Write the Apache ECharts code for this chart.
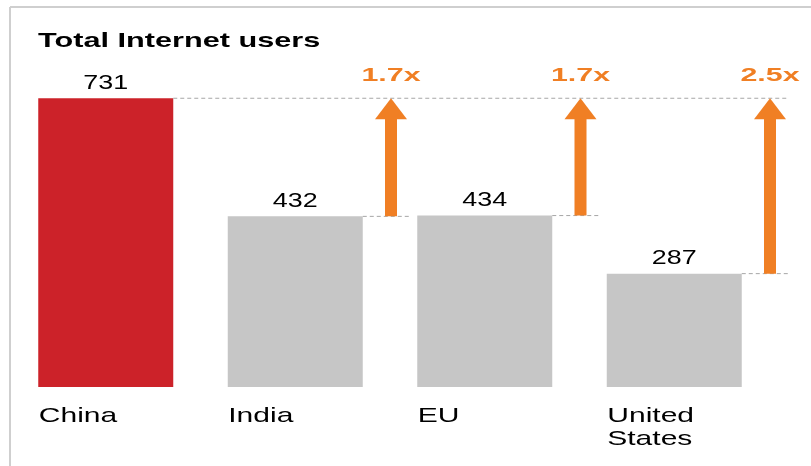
<!DOCTYPE html>
<html>
<head>
<meta charset="utf-8">
<script src="https://cdn.jsdelivr.net/npm/echarts@6/dist/echarts.min.js"></script>
<style>
  html, body { margin: 0; padding: 0; background: #fff; }
  #chart { width: 811px; height: 466px; }
</style>
</head>
<body>
<div id="chart"></div>
<script>
// Internet users by region (millions)
const categories = ['China', 'India', 'EU', 'United\nStates'];
const users = [731, 432, 434, 287];
// Multiples needed to reach China's total
const multiples = ['', '1.7x', '1.7x', '2.5x'];
const title = 'Total Internet users';

const RED = '#CC2229';
const GREY = '#C6C6C6';
const ORANGE = '#F07F24';
const FONT = '"Liberation Sans", Arial, sans-serif';
const BAR_W = 135;

const chart = echarts.init(document.getElementById('chart'));

// Wide-set lettering used throughout the slide
const WIDE = { title: 1.46, value: 1.28, multiple: 1.6, category: 1.43 };

function renderGap(params, api) {
  const i = api.value(0);
  const v = api.value(1);
  const p = api.coord([i, v]);
  const half = api.size([1, 0])[0] / 2;
  const children = [];
  const dash = { stroke: '#a6a6a6', lineWidth: 1, lineDash: [4, 3] };

  // value label above the bar
  children.push({
    type: 'text',
    x: p[0],
    y: p[1] - 15,
    scaleX: WIDE.value,
    style: {
      text: String(users[i]),
      fill: '#000',
      font: '21px ' + FONT,
      align: 'center',
      verticalAlign: 'middle'
    }
  });

  if (i === 0) {
    // reference line at the leader's level
    const last = api.coord([categories.length - 1, v]);
    children.push({
      type: 'line',
      shape: { x1: p[0] + BAR_W / 2, y1: p[1], x2: last[0] + half + 18, y2: p[1] },
      style: dash
    });
    return { type: 'group', children };
  }

  const top = api.coord([i, users[0]]);
  const ax = p[0] + half + 1;
  children.push({
    type: 'line',
    shape: { x1: p[0] + BAR_W / 2, y1: p[1], x2: ax + 18, y2: p[1] },
    style: dash
  });
  children.push({
    type: 'rect',
    shape: { x: ax - 6, y: top[1] + 20, width: 12, height: p[1] - top[1] - 20 },
    style: { fill: ORANGE }
  });
  children.push({
    type: 'polygon',
    shape: { points: [[ax - 16, top[1] + 21], [ax + 16, top[1] + 21], [ax, top[1]]] },
    style: { fill: ORANGE }
  });
  children.push({
    type: 'text',
    x: ax,
    y: top[1] - 22.5,
    scaleX: WIDE.multiple,
    style: {
      text: multiples[i],
      fill: ORANGE,
      font: 'bold 19px ' + FONT,
      align: 'center',
      verticalAlign: 'middle'
    }
  });
  return { type: 'group', children };
}

function renderCategory(params, api) {
  const i = api.value(0);
  const p = api.coord([i, 0]);
  return {
    type: 'text',
    x: p[0] - BAR_W / 2 + 0.5,
    y: p[1] + 18,
    scaleX: WIDE.category,
    style: {
      text: categories[i],
      fill: '#000',
      font: '21px ' + FONT,
      lineHeight: 23,
      align: 'left',
      verticalAlign: 'top'
    }
  };
}

chart.setOption({
  animation: false,
  graphic: [
    { type: 'line', shape: { x1: 10, y1: 7, x2: 811, y2: 7 }, style: { stroke: '#cfcfcf', lineWidth: 2 } },
    { type: 'line', shape: { x1: 10, y1: 7, x2: 10, y2: 466 }, style: { stroke: '#cfcfcf', lineWidth: 2 } },
    {
      type: 'text',
      x: 38,
      y: 41,
      scaleX: WIDE.title,
      style: {
        text: title,
        fill: '#000',
        font: 'bold 21px ' + FONT,
        align: 'left',
        verticalAlign: 'middle'
      }
    }
  ],
  grid: { left: 11, right: 42, top: 71, bottom: 79 },
  xAxis: {
    type: 'category',
    data: categories,
    axisLine: { show: false },
    axisTick: { show: false },
    axisLabel: { show: false }
  },
  yAxis: {
    type: 'value',
    min: 0,
    max: 800,
    show: false,
    splitLine: { show: false }
  },
  series: [
    {
      type: 'bar',
      barWidth: BAR_W,
      data: users.map((v, i) => ({ value: v, itemStyle: { color: i === 0 ? RED : GREY } })),
      z: 2
    },
    {
      type: 'custom',
      renderItem: renderGap,
      data: users.map((v, i) => [i, v]),
      z: 3
    },
    {
      type: 'custom',
      renderItem: renderCategory,
      data: users.map((v, i) => [i, v]),
      z: 3
    }
  ]
});
</script>
</body>
</html>
